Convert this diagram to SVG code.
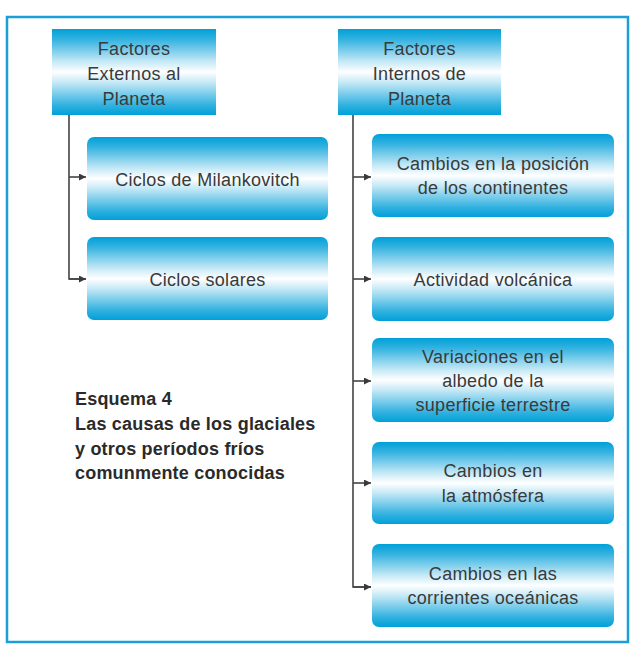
<svg xmlns="http://www.w3.org/2000/svg" width="643" height="657" viewBox="0 0 643 657">
<defs>
<linearGradient id="g" x1="0" y1="0" x2="0" y2="1">
<stop offset="0" stop-color="#00a0d8"/>
<stop offset="0.12" stop-color="#33b2e0"/>
<stop offset="0.38" stop-color="#c6e9f6"/>
<stop offset="0.5" stop-color="#ffffff"/>
<stop offset="0.62" stop-color="#c6e9f6"/>
<stop offset="0.88" stop-color="#33b2e0"/>
<stop offset="1" stop-color="#00a0d8"/>
</linearGradient>
<marker id="ah" viewBox="0 0 10 10" refX="10" refY="5" markerWidth="7" markerHeight="7" markerUnits="userSpaceOnUse" orient="auto">
<path d="M0,0 L10,5 L0,10 z" fill="#3a3a3a"/>
</marker>
</defs>
<style>
.box{fill:url(#g);}
.t{font-family:"Liberation Sans",Arial,sans-serif;font-size:18px;letter-spacing:0.3px;fill:#3a3a3a;text-anchor:middle;}
.cap{font-family:"Liberation Sans",Arial,sans-serif;font-size:18px;font-weight:bold;letter-spacing:0.2px;fill:#2a2a2a;}
.c{fill:none;stroke:#444;stroke-width:1.6;}
</style>
<rect x="7" y="17" width="621" height="625" fill="#fff" stroke="#1a9fd9" stroke-width="2.5"/>
<g id="connectors">
<path class="c" d="M69,115 V279 H86"/>
<path class="c" d="M69,177 H86" marker-end="url(#ah)"/>
<path class="c" d="M69,279 H86" marker-end="url(#ah)"/>
<path class="c" d="M353,115 V587 H371"/>
<path class="c" d="M353,177 H371" marker-end="url(#ah)"/>
<path class="c" d="M353,279 H371" marker-end="url(#ah)"/>
<path class="c" d="M353,381 H371" marker-end="url(#ah)"/>
<path class="c" d="M353,483 H371" marker-end="url(#ah)"/>
<path class="c" d="M353,587 H371" marker-end="url(#ah)"/>
</g>
<g id="ext">
<rect class="box" x="52" y="29" width="164" height="86"/>
<text class="t" x="134" y="55">Factores</text>
<text class="t" x="134" y="80">Externos al</text>
<text class="t" x="134" y="105">Planeta</text>
</g>
<g id="int">
<rect class="box" x="338" y="29" width="163" height="86"/>
<text class="t" x="419.5" y="55">Factores</text>
<text class="t" x="419.5" y="80">Internos de</text>
<text class="t" x="419.5" y="105">Planeta</text>
</g>
<g id="milankovitch">
<rect class="box" x="87" y="137" width="241" height="83" rx="7"/>
<text class="t" x="207.5" y="186">Ciclos de Milankovitch</text>
</g>
<g id="solares">
<rect class="box" x="87" y="237" width="241" height="83" rx="7"/>
<text class="t" x="207.5" y="286">Ciclos solares</text>
</g>
<g id="continentes">
<rect class="box" x="372" y="134" width="242" height="83" rx="7"/>
<text class="t" x="493" y="170">Cambios en la posición</text>
<text class="t" x="493" y="194">de los continentes</text>
</g>
<g id="volcanica">
<rect class="box" x="372" y="237" width="242" height="84" rx="7"/>
<text class="t" x="493" y="286">Actividad volcánica</text>
</g>
<g id="albedo">
<rect class="box" x="372" y="338" width="242" height="84" rx="7"/>
<text class="t" x="493" y="363">Variaciones en el</text>
<text class="t" x="493" y="387">albedo de la</text>
<text class="t" x="493" y="411">superficie terrestre</text>
</g>
<g id="atmosfera">
<rect class="box" x="372" y="442" width="242" height="82" rx="7"/>
<text class="t" x="493" y="477">Cambios en</text>
<text class="t" x="493" y="502">la atmósfera</text>
</g>
<g id="corrientes">
<rect class="box" x="372" y="544" width="242" height="83" rx="7"/>
<text class="t" x="493" y="580">Cambios en las</text>
<text class="t" x="493" y="604">corrientes oceánicas</text>
</g>
<g id="caption">
<text class="cap" x="75" y="405">Esquema 4</text>
<text class="cap" x="75" y="430">Las causas de los glaciales</text>
<text class="cap" x="75" y="455">y otros períodos fríos</text>
<text class="cap" x="75" y="479">comunmente conocidas</text>
</g>
</svg>
